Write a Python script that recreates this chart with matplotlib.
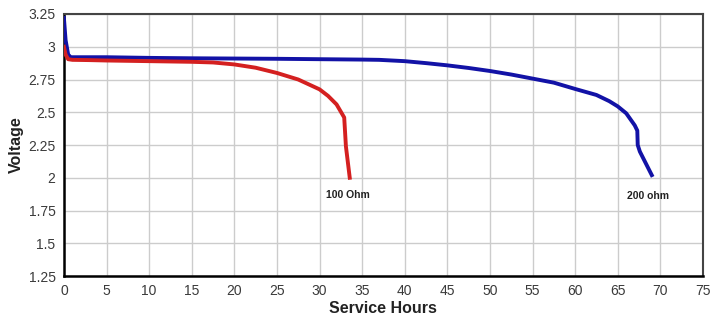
import matplotlib
matplotlib.use("Agg")
import matplotlib.pyplot as plt
import matplotlib.ticker as ticker

# Discharge curves
hours_200 = [0.0, 0.2, 0.5, 0.8, 2, 5, 10, 15, 20, 25, 30, 35, 37, 40, 42.5, 45, 47.5, 50,
             52.5, 55, 57.5, 60, 62.5, 64, 65, 66, 67, 67.3, 67.35, 67.6, 68.3, 69.0]
volts_200 = [3.22, 3.05, 2.94, 2.92, 2.92, 2.92, 2.915, 2.912, 2.91, 2.908, 2.905, 2.902, 2.90,
             2.89, 2.875, 2.858, 2.838, 2.815, 2.788, 2.757, 2.726, 2.678, 2.632, 2.585, 2.545,
             2.492, 2.40, 2.36, 2.25, 2.20, 2.11, 2.02]

hours_100 = [0.0, 0.2, 0.5, 1, 3, 5, 10, 15, 17.5, 20, 22.5, 25, 27.5, 30, 31, 32, 32.9,
             33.0, 33.1, 33.55]
volts_100 = [3.0, 2.94, 2.905, 2.9, 2.898, 2.895, 2.89, 2.885, 2.88, 2.865, 2.84, 2.80, 2.75,
             2.675, 2.625, 2.56, 2.46, 2.35, 2.24, 2.0]

x_ticks = list(range(0, 80, 5))
y_ticks = [1.25, 1.5, 1.75, 2, 2.25, 2.5, 2.75, 3, 3.25]

plt.rcParams['font.family'] = ['Liberation Sans', 'DejaVu Sans']

fig = plt.figure(figsize=(7.1, 3.18), dpi=100)
ax = fig.add_axes([0.090, 0.132, 0.900, 0.824])

ax.plot(hours_200, volts_200, color='#1212a6', linewidth=2.8, solid_joinstyle='round', zorder=3)
ax.plot(hours_100, volts_100, color='#d42020', linewidth=2.8, solid_joinstyle='round', zorder=3)

ax.text(33.3, 1.87, '100 Ohm', fontsize=7.5, fontweight='bold', ha='center', va='center', color='#222222')
ax.text(68.5, 1.86, '200 ohm', fontsize=7.5, fontweight='bold', ha='center', va='center', color='#222222')

ax.set_xlim(0, 75)
ax.set_ylim(1.25, 3.25)
ax.set_xticks(x_ticks)
ax.set_yticks(y_ticks)
ax.yaxis.set_major_formatter(ticker.FormatStrFormatter('%g'))
ax.tick_params(length=0, labelsize=10, colors='#3a3a3a', pad=6)

ax.grid(True, color='#cccccc', linewidth=1.0)
ax.set_axisbelow(True)

for side in ['top', 'right']:
    ax.spines[side].set_color('#444444')
    ax.spines[side].set_linewidth(1.5)
for side in ['left', 'bottom']:
    ax.spines[side].set_color('#000000')
    ax.spines[side].set_linewidth(1.8)

ax.set_xlabel('Service Hours', fontsize=11.5, fontweight='bold', color='#222222', labelpad=2)
ax.set_ylabel('Voltage', fontsize=11.5, fontweight='bold', color='#222222', labelpad=3)

fig.savefig('out.png', dpi=100)
